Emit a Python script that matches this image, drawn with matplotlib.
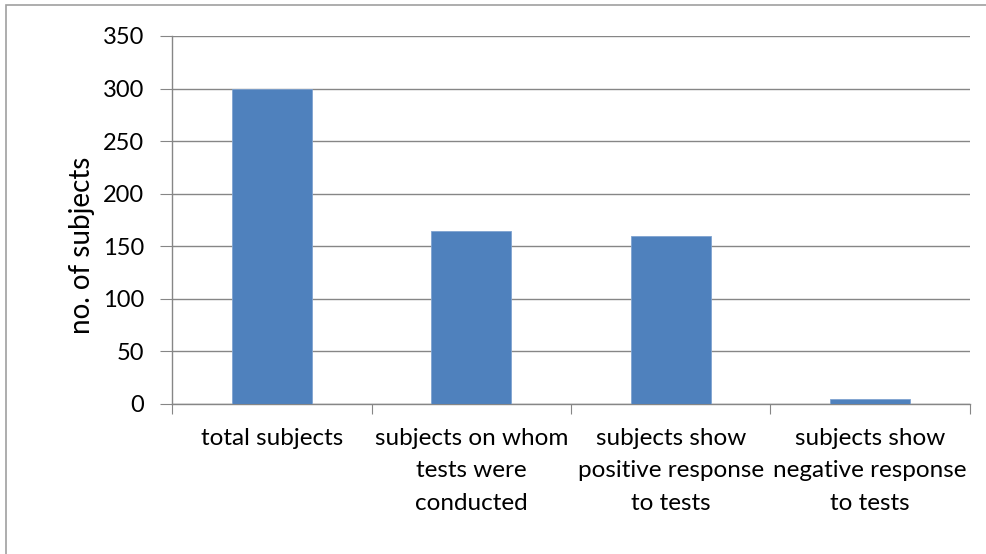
import matplotlib.pyplot as plt
from matplotlib.patches import Rectangle

categories = ["total subjects", "subjects on whom\ntests were\nconducted",
              "subjects show\npositive response\nto tests",
              "subjects show\nnegative response\nto tests"]
values = [300, 165, 160, 5]
yticks = [0, 50, 100, 150, 200, 250, 300, 350]

plt.rcParams['font.family'] = ['Lato', 'DejaVu Sans']

fig = plt.figure(figsize=(9.87, 5.54), dpi=100)
fig.patches.append(Rectangle((6 / 987, -0.1), 1, 1.1 - 5 / 554, transform=fig.transFigure,
                             fill=False, edgecolor='#a0a0a0', linewidth=1.2))
ax = fig.add_axes([172 / 987, 1 - 404 / 554, (970 - 172) / 987, (404 - 36) / 554])

x = list(range(len(values)))
ax.bar(x, values, width=0.4, color='#4f81bd', edgecolor='#7fa3d0', linewidth=0.6, zorder=3)

ax.set_xlim(-0.5, len(values) - 0.5)
ax.set_ylim(0, 350)
ax.set_yticks(yticks)
ax.tick_params(axis='y', length=9, color='#868686', labelsize=17, pad=11)
ax.grid(axis='y', color='#868686', linewidth=1, zorder=0)

ax.set_xticks([i - 0.5 for i in range(len(values) + 1)], minor=False)
ax.set_xticklabels([])
ax.set_xticks(x, minor=True)
ax.set_xticklabels(categories, minor=True, fontsize=17.5, linespacing=1.68, va='top')
ax.tick_params(axis='x', which='major', length=7, color='#868686')
ax.tick_params(axis='x', which='minor', length=0, pad=17)

for s in ['top', 'right']:
    ax.spines[s].set_visible(False)
for s in ['left', 'bottom']:
    ax.spines[s].set_color('#868686')
    ax.spines[s].set_linewidth(1)

ax.set_ylabel("no. of subjects", fontsize=20)
ax.yaxis.set_label_coords(-0.097, 0.43)

fig.savefig("out.png", dpi=100)
